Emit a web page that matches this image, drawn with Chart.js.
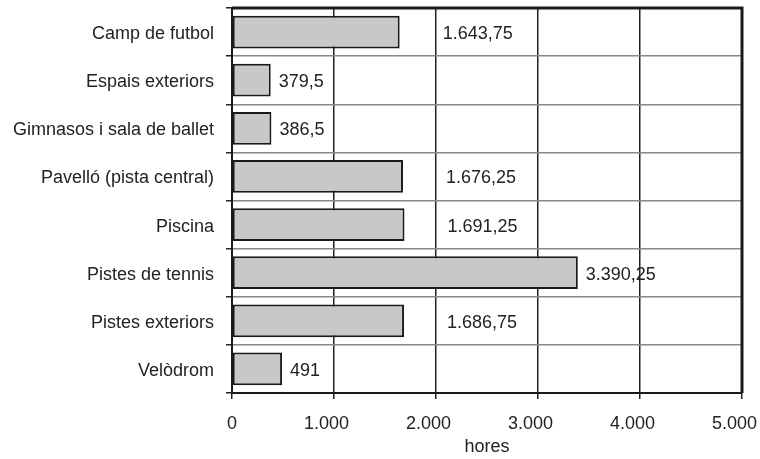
<!DOCTYPE html>
<html>
<head>
<meta charset="utf-8">
<script src="https://cdn.jsdelivr.net/npm/chart.js@4/dist/chart.umd.min.js"></script>
<style>
  html, body { margin: 0; padding: 0; background: #fff; }
  #wrap { width: 760px; height: 459px; }
</style>
</head>
<body>
<div id="wrap"><canvas id="hoursChart"></canvas></div>
<script>
// Data
const categories = [
    'Camp de futbol',
    'Espais exteriors',
    'Gimnasos i sala de ballet',
    'Pavelló (pista central)',
    'Piscina',
    'Pistes de tennis',
    'Pistes exteriors',
    'Velòdrom'
];
const hours = [1643.75, 379.5, 386.5, 1676.25, 1691.25, 3390.25, 1686.75, 491];
const xTicks = [0, 1000, 2000, 3000, 4000, 5000];
const axisTitle = 'hores';

// extra gap for labels that sit past the next gridline
const labelShift = [35, 0, 0, 35, 35, 0, 35, 0];

const fontFamily = '"Liberation Sans", Arial, sans-serif';
const fontSize = 18;
const textColor = '#222';

/**
 * Format number the Catalan way: 1.643,75
 */
function formatCa(value) {
    const parts = String(value).split('.');
    const intPart = parts[0].replace(/\B(?=(\d{3})+(?!\d))/g, '.');
    return parts.length > 1 ? intPart + ',' + parts[1] : intPart;
}

// Frame around plot area and value labels
const framePlugin = {
    id: 'frame',
    afterDatasetsDraw(chart) {
        const ctx = chart.ctx;
        const area = chart.chartArea;
        ctx.save();
        ctx.strokeStyle = '#1a1a1a';
        ctx.lineWidth = 3;
        ctx.beginPath();
        ctx.moveTo(area.left, area.top);
        ctx.lineTo(area.right, area.top);
        ctx.lineTo(area.right, area.bottom);
        ctx.stroke();
        ctx.lineWidth = 2;
        ctx.beginPath();
        ctx.moveTo(area.left, area.top);
        ctx.lineTo(area.left, area.bottom);
        ctx.lineTo(area.right, area.bottom);
        ctx.stroke();

        const meta = chart.getDatasetMeta(0);
        ctx.fillStyle = textColor;
        ctx.font = fontSize + 'px ' + fontFamily;
        ctx.textAlign = 'left';
        ctx.textBaseline = 'middle';
        meta.data.forEach(function(bar, i) {
            ctx.fillText(formatCa(hours[i]), bar.x + 8 + labelShift[i], bar.y + 2);
        });
        ctx.restore();
    }
};

const ctx = document.getElementById('hoursChart');
new Chart(ctx.getContext('2d'), {
    type: 'bar',
    data: {
        labels: categories,
        datasets: [{
            data: hours,
            backgroundColor: '#c8c8c8',
            borderColor: '#1a1a1a',
            borderWidth: 2,
            borderSkipped: false,
            categoryPercentage: 1,
            barPercentage: 0.68
        }]
    },
    options: {
        indexAxis: 'y',
        responsive: true,
        maintainAspectRatio: false,
        animation: false,
        devicePixelRatio: 1,
        layout: {
            padding: { top: 8, right: 18, left: 0, bottom: 0 }
        },
        plugins: {
            legend: { display: false },
            tooltip: { enabled: false }
        },
        scales: {
            x: {
                type: 'linear',
                min: 0,
                max: 5000,
                afterBuildTicks: function(axis) {
                    axis.ticks = xTicks.map(function(v) { return { value: v }; });
                },
                grid: {
                    color: '#222',
                    lineWidth: 1.5,
                    tickLength: 6,
                    drawTicks: true
                },
                border: { display: false },
                ticks: {
                    color: textColor,
                    font: { family: fontFamily, size: fontSize },
                    padding: 14,
                    maxRotation: 0,
                    callback: function(value) {
                        // trailing spaces nudge the labels left like the original
                        return value === 0 ? '0' : formatCa(value) + '   ';
                    }
                },
                title: {
                    display: true,
                    text: axisTitle,
                    color: textColor,
                    font: { family: fontFamily, size: fontSize },
                    padding: { top: 0, bottom: 1 }
                },
                afterFit: function(axis) {
                    axis.height = 66;
                    axis.paddingLeft = 0;
                    axis.paddingRight = 0;
                }
            },
            y: {
                grid: {
                    offset: true,
                    color: '#888',
                    lineWidth: 1.5,
                    tickLength: 6,
                    tickColor: '#222'
                },
                border: { display: false },
                ticks: {
                    color: textColor,
                    font: { family: fontFamily, size: fontSize },
                    padding: 12,
                    labelOffset: 2
                },
                afterFit: function(axis) {
                    axis.width = 232;
                    axis.paddingTop = 0;
                    axis.paddingBottom = 0;
                }
            }
        }
    },
    plugins: [framePlugin]
});
</script>
</body>
</html>
